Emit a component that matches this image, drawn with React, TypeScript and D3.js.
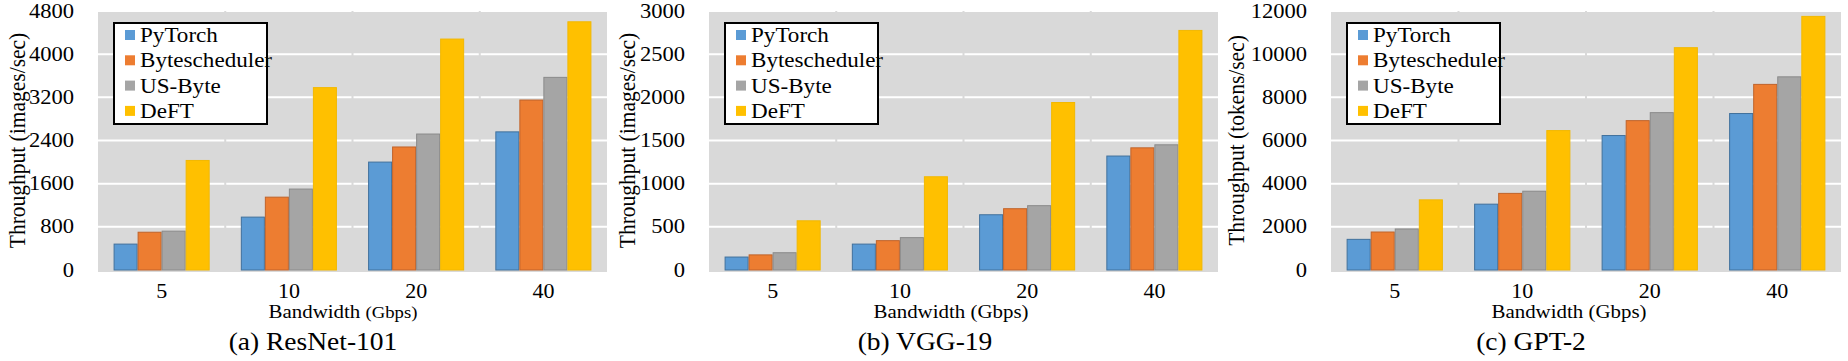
import React from "react";
import * as d3 from "d3";

// categories and series
const bandwidths = ["5", "10", "20", "40"];
const seriesNames = ["PyTorch", "Bytescheduler", "US-Byte", "DeFT"];
const colors = ["#5B9BD5", "#ED7D31", "#A5A5A5", "#FFC000"];
const strokes = ["#41719C", "#C0632A", "#8A8A8A", "#F2B800"];

// (a) ResNet-101, images/sec
const resnetPyTorch = [480, 980, 2000, 2560];
const resnetByteScheduler = [700, 1350, 2280, 3150];
const resnetUSByte = [720, 1500, 2520, 3570];
const resnetDeFT = [2030, 3380, 4280, 4600];
const resnetTicks = [0, 800, 1600, 2400, 3200, 4000, 4800];

// (b) VGG-19, images/sec
const vggPyTorch = [150, 300, 640, 1320];
const vggByteScheduler = [175, 340, 710, 1415];
const vggUSByte = [200, 375, 745, 1450];
const vggDeFT = [570, 1080, 1940, 2775];
const vggTicks = [0, 500, 1000, 1500, 2000, 2500, 3000];

// (c) GPT-2, tokens/sec
const gptPyTorch = [1420, 3050, 6230, 7250];
const gptByteScheduler = [1760, 3550, 6920, 8600];
const gptUSByte = [1900, 3650, 7290, 8950];
const gptDeFT = [3250, 6460, 10300, 11750];
const gptTicks = [0, 2000, 4000, 6000, 8000, 10000, 12000];

const panels = [
  {
    left: 98, right: 607, ticks: resnetTicks,
    series: [resnetPyTorch, resnetByteScheduler, resnetUSByte, resnetDeFT],
    yTitle: "Throughput (images/sec)", yTitleGap: 81,
    caption: "(a) ResNet-101", captionX: 313, xTitleX: 343, smallGbps: true,
  },
  {
    left: 709, right: 1218, ticks: vggTicks,
    series: [vggPyTorch, vggByteScheduler, vggUSByte, vggDeFT],
    yTitle: "Throughput (images/sec)", yTitleGap: 82,
    caption: "(b) VGG-19", captionX: 925, xTitleX: 951, smallGbps: false,
  },
  {
    left: 1331, right: 1841, ticks: gptTicks,
    series: [gptPyTorch, gptByteScheduler, gptUSByte, gptDeFT],
    yTitle: "Throughput (tokens/sec)", yTitleGap: 95,
    caption: "(c) GPT-2", captionX: 1531, xTitleX: 1569, smallGbps: false,
  },
];

const TOP = 11;
const BASE = 270;
const FONT = "Liberation Serif, DejaVu Serif, serif";
const SX = 1.1; // the picture is a bit wide, glyphs too

const SText = ({ x, y, size, anchor = "start", baseline, children }: any) => (
  <text
    transform={`translate(${x},${y}) scale(${SX},1)`}
    style={{ fontFamily: FONT, fontSize: size }}
    textAnchor={anchor}
    dominantBaseline={baseline}
    fill="#000"
  >
    {children}
  </text>
);

const Panel = ({ p }: any) => {
  const ymax = p.ticks[p.ticks.length - 1];
  const y = d3.scaleLinear().domain([0, ymax]).range([BASE, TOP]);
  const x0 = d3
    .scaleBand()
    .domain(bandwidths)
    .range([p.left, p.right])
    .paddingInner(0.245)
    .paddingOuter(0.1225);
  const x1 = d3.scaleBand().domain(seriesNames).range([0, x0.bandwidth()]);
  const step = x0.step();
  // gridlines have small breaks at category boundaries
  const bounds = [p.left, p.left + step, p.left + 2 * step, p.left + 3 * step, p.right];

  return (
    <g>
      <rect x={p.left} y={TOP} width={p.right - p.left} height={BASE - TOP + 2} fill="#D9D9D9" />
      {p.ticks.filter((t: number) => t > 0).map((t: number) =>
        bounds.slice(0, 4).map((b, i) => (
          <line
            key={`${t}-${i}`}
            x1={b + (i === 0 ? 0 : 1)}
            x2={bounds[i + 1] - (i === 3 ? 0 : 1)}
            y1={y(t)}
            y2={y(t)}
            stroke="#fff"
            strokeWidth={2}
          />
        ))
      )}
      {bandwidths.map((bw, ci) => (
        <g key={bw}>
          {seriesNames.map((s, si) => {
            const v = p.series[si][ci];
            return (
              <rect
                key={s}
                x={(x0(bw) as number) + (x1(s) as number) + 0.5}
                y={y(v)}
                width={x1.bandwidth() - 1}
                height={BASE - y(v)}
                fill={colors[si]}
                stroke={strokes[si]}
                strokeWidth={1}
              />
            );
          })}
          <SText x={(x0(bw) as number) + x0.bandwidth() / 2} y={291} size={20} anchor="middle" baseline="central">
            {bw}
          </SText>
        </g>
      ))}
      {p.ticks.map((t: number) => (
        <SText key={t} x={p.left - 24} y={y(t)} size={20.5} anchor="end" baseline="central">
          {t}
        </SText>
      ))}
      <text
        transform={`translate(${p.left - p.yTitleGap},${(TOP + BASE) / 2}) rotate(-90) scale(1,${SX})`}
        style={{ fontFamily: FONT, fontSize: 21.5 }}
        textAnchor="middle"
        dominantBaseline="central"
      >
        {p.yTitle}
      </text>
      {/* legend */}
      <rect x={p.left + 16} y={TOP + 12} width={153} height={101} fill="#fff" stroke="#000" strokeWidth={2} />
      {seriesNames.map((s, si) => {
        const cy = TOP + 24 + si * 25.3;
        return (
          <g key={s}>
            <rect x={p.left + 27} y={cy - 5} width={10} height={10} fill={colors[si]} />
            <SText x={p.left + 42} y={cy + 7} size={21}>
              {s}
            </SText>
          </g>
        );
      })}
      <SText x={p.xTitleX} y={318} size={19} anchor="middle">
        {"Bandwidth "}
        {p.smallGbps ? <tspan style={{ fontSize: 17 }}>(Gbps)</tspan> : "(Gbps)"}
      </SText>
      <SText x={p.captionX} y={350} size={25} anchor="middle">
        {p.caption}
      </SText>
    </g>
  );
};

export default function App() {
  return (
    <svg
      width={1848}
      height={361}
      style={{ position: "absolute", left: 0, top: 0, background: "#fff" }}
    >
      <rect width={1848} height={361} fill="#fff" />
      {panels.map((p) => (
        <Panel key={p.caption} p={p} />
      ))}
    </svg>
  );
}
